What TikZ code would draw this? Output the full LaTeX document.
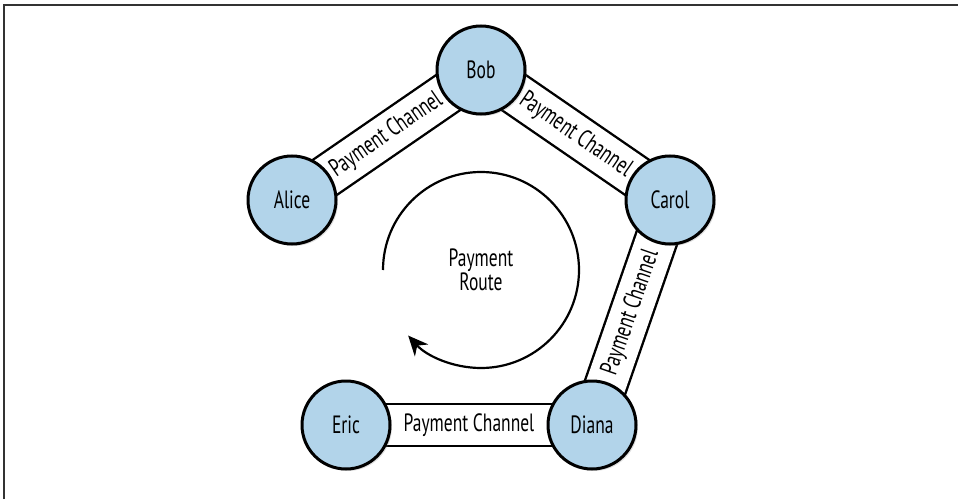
\documentclass[tikz,border=0pt]{standalone}
\usepackage{fontspec}
\setmainfont{PT Sans}[FakeStretch=0.7]
\usepackage{xcolor}
\usetikzlibrary{arrows.meta, positioning, backgrounds, shadows}
\definecolor{peerblue}{RGB}{178,212,234}

\begin{document}
\begin{tikzpicture}[x=0.5pt, y=0.5pt,
    font=\fontsize{12.5}{12}\selectfont,
    peer/.style={circle, draw=black, line width=1.5pt, fill=peerblue, minimum size=44pt, inner sep=0pt, drop shadow={shadow xshift=1pt, shadow yshift=-1pt, opacity=0.25}},
    channel/.style={draw=black, line width=1.2pt, double=white, double distance=20pt},
    chlabel/.style={midway, sloped, inner sep=1pt},
    route/.style={draw, line width=1.1pt, -{Stealth[length=10pt, width=9pt]}}
]
    \useasboundingbox (0,0) rectangle (958,499);
    % Page frame
    \draw[line width=1pt, black!80] (4,0) -- (4,494) -- (958,494);

    % Peers
    \node[peer] (bob) at (481,429) {Bob};
    \node[peer] (alice) at (292,299) {Alice};
    \node[peer] (carol) at (670,299) {Carol};
    \node[peer] (diana) at (592,74) {Diana};
    \node[peer, left=77.5pt of diana] (eric) {Eric};

    % Channels behind the peers
    \begin{scope}[on background layer]
    \draw[channel] (alice.center) -- node[chlabel] (ab) {Payment Channel} (bob.center);
    \draw[channel] (bob.center) -- node[chlabel] (bc) {Payment Channel} (carol.center);
    \draw[channel] (carol.center) -- node[chlabel] (cd) {Payment Channel} (diana.center);
    \draw[channel] (eric.center) -- node[chlabel] (de) {Payment Channel} (diana.center);
    \end{scope}

    % Route around the ring
    \node[align=center] (route) at (481,229) {Payment\\Route};
    \draw[route] ([xshift=-49pt]route.center) arc[start angle=180, end angle=-138, radius=49pt];
\end{tikzpicture}
\end{document}
